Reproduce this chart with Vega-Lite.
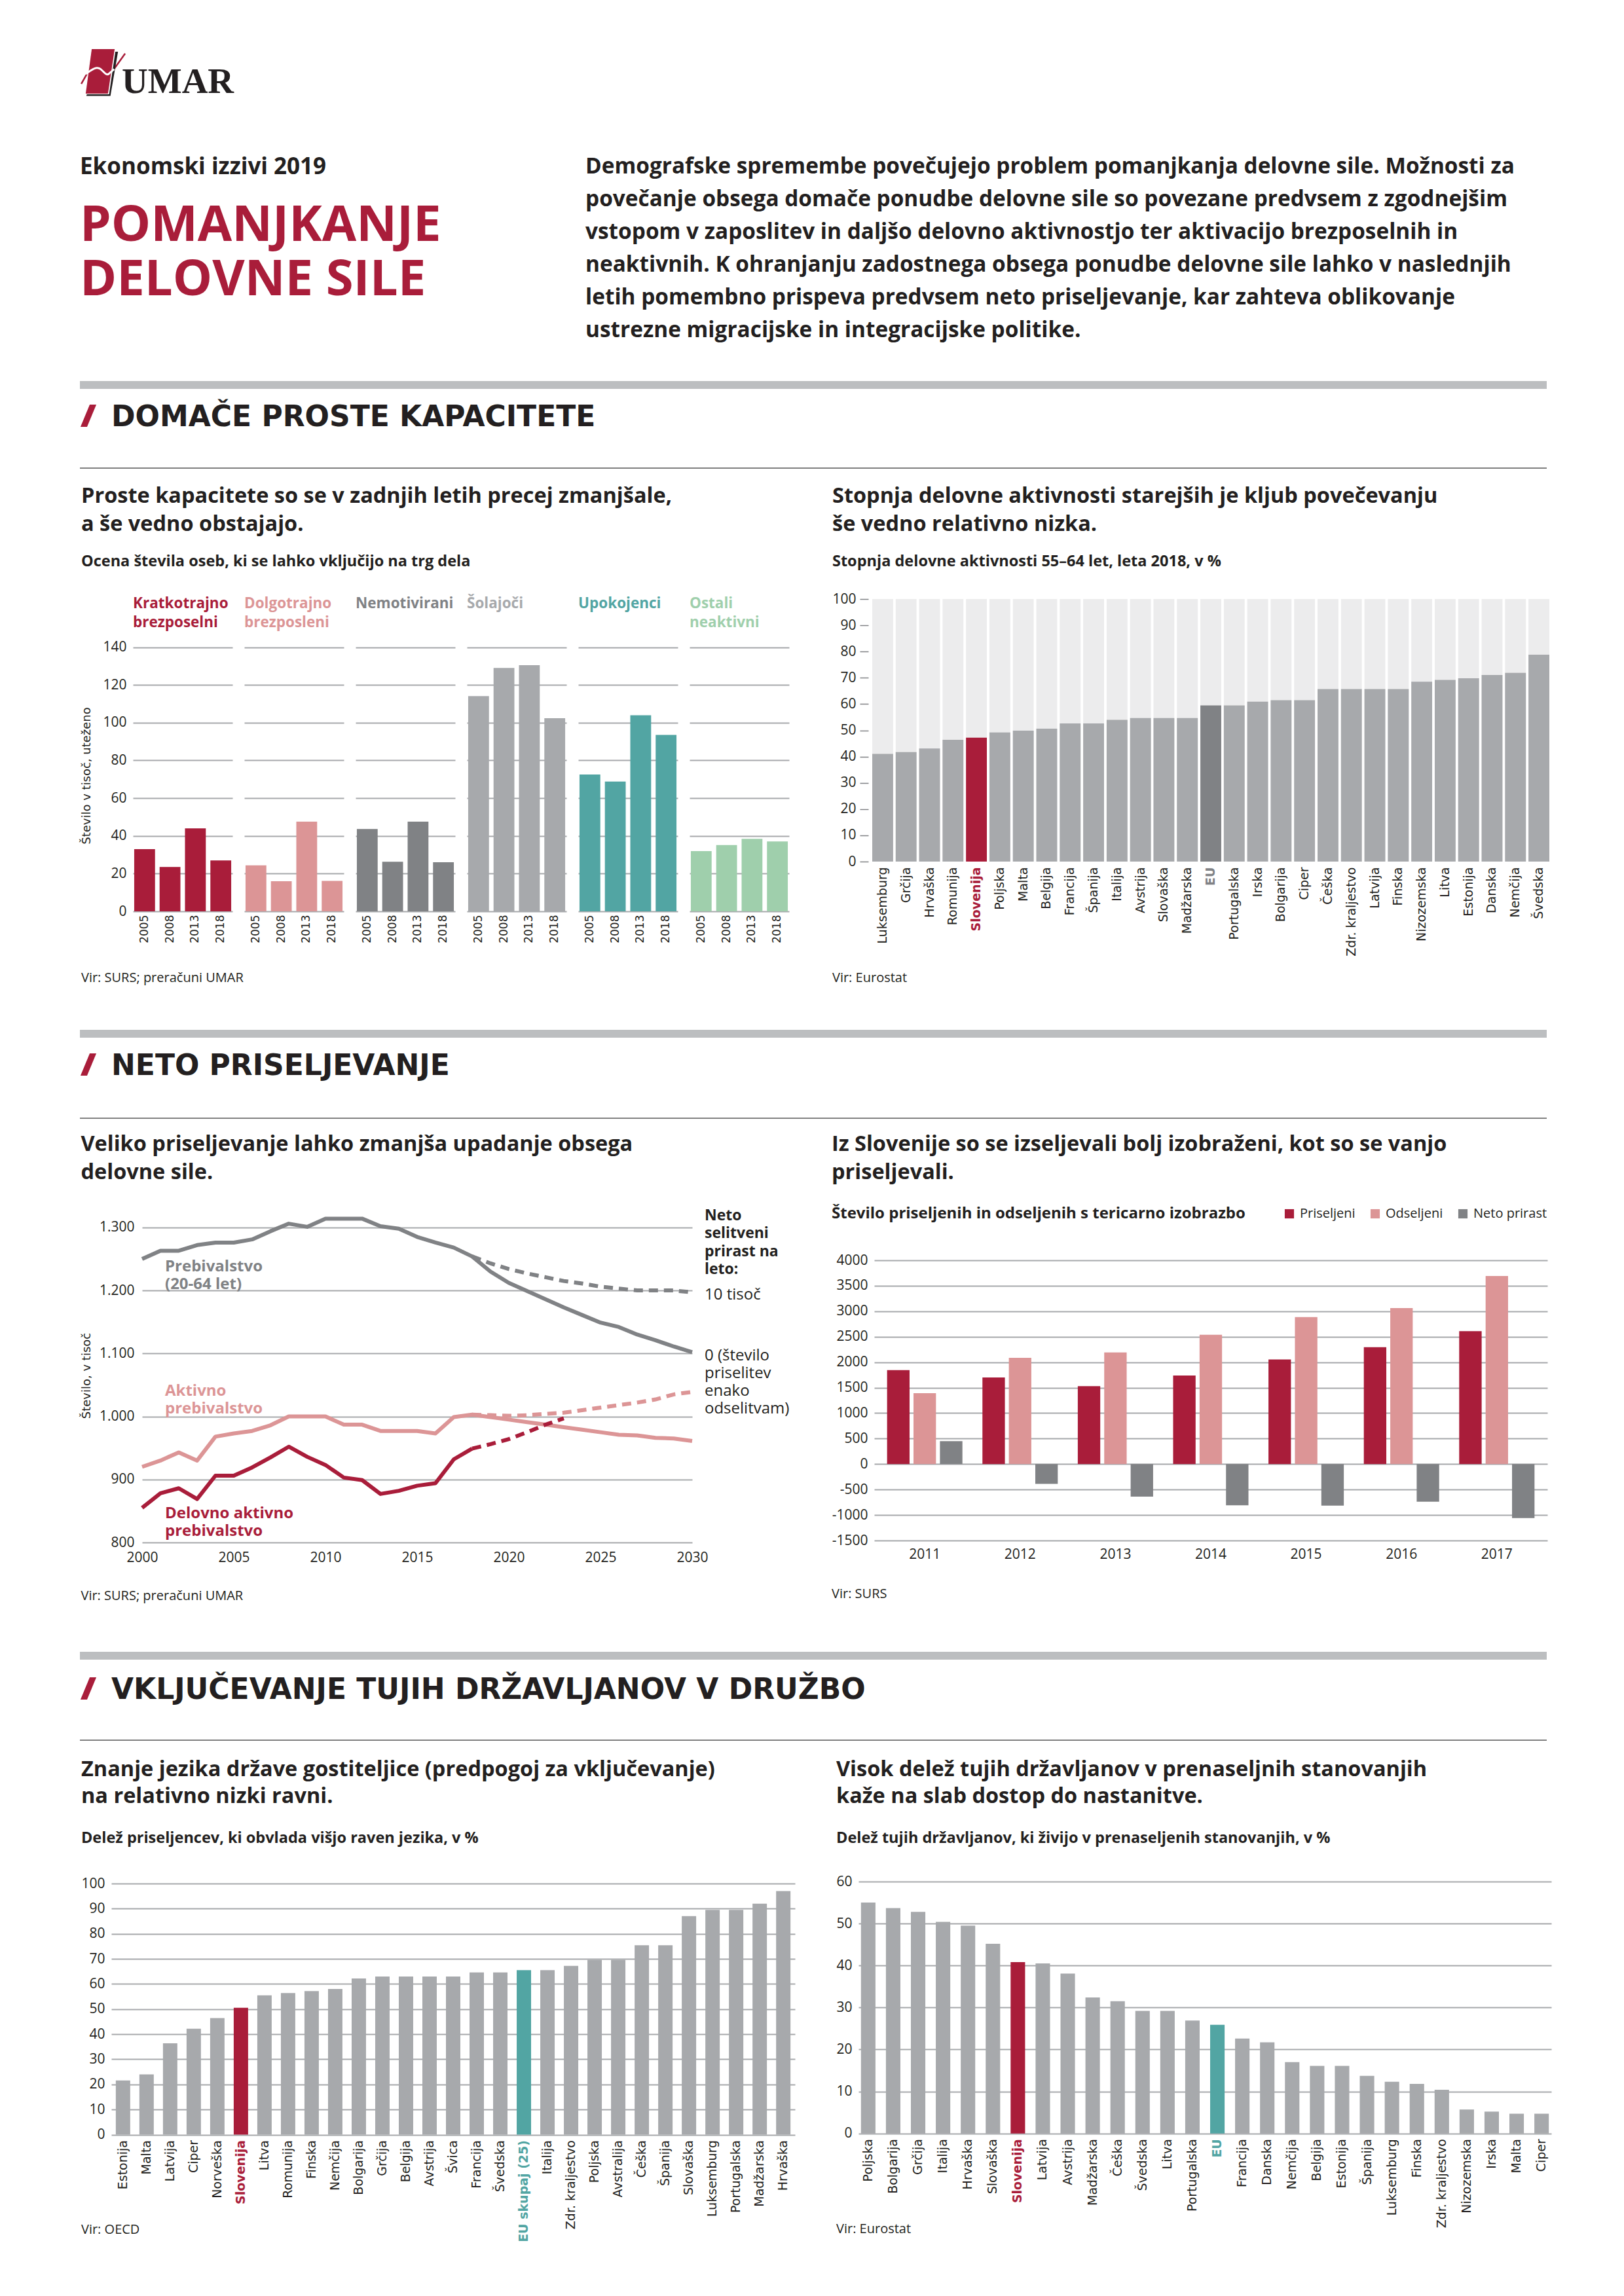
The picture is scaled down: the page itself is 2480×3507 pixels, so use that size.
{
  "$schema": "https://vega.github.io/schema/vega-lite/v6.json",
  "background": "white",
  "padding": {"left": 119, "top": 70, "right": 20, "bottom": 20},
  "spacing": 0,
  "align": "each",
  "resolve": {"scale": {"color": "independent"}, "legend": {"color": "independent"}},
  "config": {
    "view": {"stroke": null},
    "font": "Open Sans",
    "axis": {"labelFont": "Open Sans", "labelFontSize": 21, "labelColor": "#231f20", "titleFont": "DejaVu Sans", "titleFontSize": 18, "titleFontWeight": "normal", "titleColor": "#231f20", "gridColor": "#a7a9ac", "gridWidth": 2, "domain": false, "ticks": false, "grid": false},
    "title": {"font": "Open Sans", "fontWeight": "bold", "color": "#231f20", "anchor": "start", "baseline": "top", "limit": 3000}
  },
  "datasets": {
    "one": [{"k": 1}],
    "kap": [
      {"cat": "Kratkotrajno brezposelni", "year": "2005", "value": 33},
      {"cat": "Kratkotrajno brezposelni", "year": "2008", "value": 23.5},
      {"cat": "Kratkotrajno brezposelni", "year": "2013", "value": 44},
      {"cat": "Kratkotrajno brezposelni", "year": "2018", "value": 27},
      {"cat": "Dolgotrajno brezposelni", "year": "2005", "value": 24.4},
      {"cat": "Dolgotrajno brezposelni", "year": "2008", "value": 16},
      {"cat": "Dolgotrajno brezposelni", "year": "2013", "value": 47.5},
      {"cat": "Dolgotrajno brezposelni", "year": "2018", "value": 16.1},
      {"cat": "Nemotivirani", "year": "2005", "value": 43.6},
      {"cat": "Nemotivirani", "year": "2008", "value": 26.3},
      {"cat": "Nemotivirani", "year": "2013", "value": 47.5},
      {"cat": "Nemotivirani", "year": "2018", "value": 26},
      {"cat": "Šolajoči", "year": "2005", "value": 114.1},
      {"cat": "Šolajoči", "year": "2008", "value": 129},
      {"cat": "Šolajoči", "year": "2013", "value": 130.5},
      {"cat": "Šolajoči", "year": "2018", "value": 102.4},
      {"cat": "Upokojenci", "year": "2005", "value": 72.5},
      {"cat": "Upokojenci", "year": "2008", "value": 68.8},
      {"cat": "Upokojenci", "year": "2013", "value": 103.9},
      {"cat": "Upokojenci", "year": "2018", "value": 93.5},
      {"cat": "Ostali neaktivni", "year": "2005", "value": 31.9},
      {"cat": "Ostali neaktivni", "year": "2008", "value": 35.1},
      {"cat": "Ostali neaktivni", "year": "2013", "value": 38.4},
      {"cat": "Ostali neaktivni", "year": "2018", "value": 37}
    ],
    "ak": [
      {"country": "Luksemburg", "value": 41},
      {"country": "Grčija", "value": 41.7},
      {"country": "Hrvaška", "value": 43.1},
      {"country": "Romunija", "value": 46.4},
      {"country": "Slovenija", "value": 47.2},
      {"country": "Poljska", "value": 49.2},
      {"country": "Malta", "value": 49.9},
      {"country": "Belgija", "value": 50.6},
      {"country": "Francija", "value": 52.6},
      {"country": "Španija", "value": 52.6},
      {"country": "Italija", "value": 54},
      {"country": "Avstrija", "value": 54.7},
      {"country": "Slovaška", "value": 54.7},
      {"country": "Madžarska", "value": 54.7},
      {"country": "EU", "value": 59.5},
      {"country": "Portugalska", "value": 59.5},
      {"country": "Irska", "value": 60.9},
      {"country": "Bolgarija", "value": 61.5},
      {"country": "Ciper", "value": 61.5},
      {"country": "Češka", "value": 65.7},
      {"country": "Zdr. kraljestvo", "value": 65.7},
      {"country": "Latvija", "value": 65.7},
      {"country": "Finska", "value": 65.7},
      {"country": "Nizozemska", "value": 68.5},
      {"country": "Litva", "value": 69.2},
      {"country": "Estonija", "value": 69.8},
      {"country": "Danska", "value": 71.1},
      {"country": "Nemčija", "value": 71.9},
      {"country": "Švedska", "value": 78.8}
    ],
    "pop": [
      {"series": "Prebivalstvo (20-64 let)", "scen": "osnovni", "year": 2000, "value": 1250},
      {"series": "Prebivalstvo (20-64 let)", "scen": "osnovni", "year": 2001, "value": 1263},
      {"series": "Prebivalstvo (20-64 let)", "scen": "osnovni", "year": 2002, "value": 1263},
      {"series": "Prebivalstvo (20-64 let)", "scen": "osnovni", "year": 2003, "value": 1272},
      {"series": "Prebivalstvo (20-64 let)", "scen": "osnovni", "year": 2004, "value": 1276},
      {"series": "Prebivalstvo (20-64 let)", "scen": "osnovni", "year": 2005, "value": 1276},
      {"series": "Prebivalstvo (20-64 let)", "scen": "osnovni", "year": 2006, "value": 1281},
      {"series": "Prebivalstvo (20-64 let)", "scen": "osnovni", "year": 2007, "value": 1294},
      {"series": "Prebivalstvo (20-64 let)", "scen": "osnovni", "year": 2008, "value": 1306},
      {"series": "Prebivalstvo (20-64 let)", "scen": "osnovni", "year": 2009, "value": 1301},
      {"series": "Prebivalstvo (20-64 let)", "scen": "osnovni", "year": 2010, "value": 1314},
      {"series": "Prebivalstvo (20-64 let)", "scen": "osnovni", "year": 2011, "value": 1314},
      {"series": "Prebivalstvo (20-64 let)", "scen": "osnovni", "year": 2012, "value": 1314},
      {"series": "Prebivalstvo (20-64 let)", "scen": "osnovni", "year": 2013, "value": 1302},
      {"series": "Prebivalstvo (20-64 let)", "scen": "osnovni", "year": 2014, "value": 1298},
      {"series": "Prebivalstvo (20-64 let)", "scen": "osnovni", "year": 2015, "value": 1285},
      {"series": "Prebivalstvo (20-64 let)", "scen": "osnovni", "year": 2016, "value": 1276},
      {"series": "Prebivalstvo (20-64 let)", "scen": "osnovni", "year": 2017, "value": 1268},
      {"series": "Prebivalstvo (20-64 let)", "scen": "osnovni", "year": 2018, "value": 1254},
      {"series": "Prebivalstvo (20-64 let)", "scen": "osnovni", "year": 2019, "value": 1230},
      {"series": "Prebivalstvo (20-64 let)", "scen": "osnovni", "year": 2020, "value": 1212},
      {"series": "Prebivalstvo (20-64 let)", "scen": "osnovni", "year": 2021, "value": 1199},
      {"series": "Prebivalstvo (20-64 let)", "scen": "osnovni", "year": 2022, "value": 1186},
      {"series": "Prebivalstvo (20-64 let)", "scen": "osnovni", "year": 2023, "value": 1173},
      {"series": "Prebivalstvo (20-64 let)", "scen": "osnovni", "year": 2024, "value": 1161},
      {"series": "Prebivalstvo (20-64 let)", "scen": "osnovni", "year": 2025, "value": 1149},
      {"series": "Prebivalstvo (20-64 let)", "scen": "osnovni", "year": 2026, "value": 1142},
      {"series": "Prebivalstvo (20-64 let)", "scen": "osnovni", "year": 2027, "value": 1130},
      {"series": "Prebivalstvo (20-64 let)", "scen": "osnovni", "year": 2028, "value": 1121},
      {"series": "Prebivalstvo (20-64 let)", "scen": "osnovni", "year": 2029, "value": 1111},
      {"series": "Prebivalstvo (20-64 let)", "scen": "osnovni", "year": 2030, "value": 1102},
      {"series": "Prebivalstvo (20-64 let)", "scen": "10 tisoč", "year": 2018, "value": 1254},
      {"series": "Prebivalstvo (20-64 let)", "scen": "10 tisoč", "year": 2019, "value": 1243},
      {"series": "Prebivalstvo (20-64 let)", "scen": "10 tisoč", "year": 2020, "value": 1234},
      {"series": "Prebivalstvo (20-64 let)", "scen": "10 tisoč", "year": 2021, "value": 1227},
      {"series": "Prebivalstvo (20-64 let)", "scen": "10 tisoč", "year": 2022, "value": 1221},
      {"series": "Prebivalstvo (20-64 let)", "scen": "10 tisoč", "year": 2023, "value": 1215},
      {"series": "Prebivalstvo (20-64 let)", "scen": "10 tisoč", "year": 2024, "value": 1211},
      {"series": "Prebivalstvo (20-64 let)", "scen": "10 tisoč", "year": 2025, "value": 1206},
      {"series": "Prebivalstvo (20-64 let)", "scen": "10 tisoč", "year": 2026, "value": 1203},
      {"series": "Prebivalstvo (20-64 let)", "scen": "10 tisoč", "year": 2027, "value": 1200},
      {"series": "Prebivalstvo (20-64 let)", "scen": "10 tisoč", "year": 2028, "value": 1200},
      {"series": "Prebivalstvo (20-64 let)", "scen": "10 tisoč", "year": 2029, "value": 1200},
      {"series": "Prebivalstvo (20-64 let)", "scen": "10 tisoč", "year": 2030, "value": 1197},
      {"series": "Aktivno prebivalstvo", "scen": "osnovni", "year": 2000, "value": 920},
      {"series": "Aktivno prebivalstvo", "scen": "osnovni", "year": 2001, "value": 930},
      {"series": "Aktivno prebivalstvo", "scen": "osnovni", "year": 2002, "value": 943},
      {"series": "Aktivno prebivalstvo", "scen": "osnovni", "year": 2003, "value": 930},
      {"series": "Aktivno prebivalstvo", "scen": "osnovni", "year": 2004, "value": 968},
      {"series": "Aktivno prebivalstvo", "scen": "osnovni", "year": 2005, "value": 973},
      {"series": "Aktivno prebivalstvo", "scen": "osnovni", "year": 2006, "value": 977},
      {"series": "Aktivno prebivalstvo", "scen": "osnovni", "year": 2007, "value": 986},
      {"series": "Aktivno prebivalstvo", "scen": "osnovni", "year": 2008, "value": 1000},
      {"series": "Aktivno prebivalstvo", "scen": "osnovni", "year": 2009, "value": 1000},
      {"series": "Aktivno prebivalstvo", "scen": "osnovni", "year": 2010, "value": 1000},
      {"series": "Aktivno prebivalstvo", "scen": "osnovni", "year": 2011, "value": 987},
      {"series": "Aktivno prebivalstvo", "scen": "osnovni", "year": 2012, "value": 987},
      {"series": "Aktivno prebivalstvo", "scen": "osnovni", "year": 2013, "value": 977},
      {"series": "Aktivno prebivalstvo", "scen": "osnovni", "year": 2014, "value": 977},
      {"series": "Aktivno prebivalstvo", "scen": "osnovni", "year": 2015, "value": 977},
      {"series": "Aktivno prebivalstvo", "scen": "osnovni", "year": 2016, "value": 973},
      {"series": "Aktivno prebivalstvo", "scen": "osnovni", "year": 2017, "value": 999},
      {"series": "Aktivno prebivalstvo", "scen": "osnovni", "year": 2018, "value": 1003},
      {"series": "Aktivno prebivalstvo", "scen": "osnovni", "year": 2019, "value": 999},
      {"series": "Aktivno prebivalstvo", "scen": "osnovni", "year": 2020, "value": 995},
      {"series": "Aktivno prebivalstvo", "scen": "osnovni", "year": 2021, "value": 991},
      {"series": "Aktivno prebivalstvo", "scen": "osnovni", "year": 2022, "value": 987},
      {"series": "Aktivno prebivalstvo", "scen": "osnovni", "year": 2023, "value": 983},
      {"series": "Aktivno prebivalstvo", "scen": "osnovni", "year": 2024, "value": 979},
      {"series": "Aktivno prebivalstvo", "scen": "osnovni", "year": 2025, "value": 975},
      {"series": "Aktivno prebivalstvo", "scen": "osnovni", "year": 2026, "value": 971},
      {"series": "Aktivno prebivalstvo", "scen": "osnovni", "year": 2027, "value": 970},
      {"series": "Aktivno prebivalstvo", "scen": "osnovni", "year": 2028, "value": 966},
      {"series": "Aktivno prebivalstvo", "scen": "osnovni", "year": 2029, "value": 965},
      {"series": "Aktivno prebivalstvo", "scen": "osnovni", "year": 2030, "value": 961},
      {"series": "Aktivno prebivalstvo", "scen": "10 tisoč", "year": 2018, "value": 1003},
      {"series": "Aktivno prebivalstvo", "scen": "10 tisoč", "year": 2019, "value": 1002},
      {"series": "Aktivno prebivalstvo", "scen": "10 tisoč", "year": 2020, "value": 1001},
      {"series": "Aktivno prebivalstvo", "scen": "10 tisoč", "year": 2021, "value": 1002},
      {"series": "Aktivno prebivalstvo", "scen": "10 tisoč", "year": 2022, "value": 1004},
      {"series": "Aktivno prebivalstvo", "scen": "10 tisoč", "year": 2023, "value": 1006},
      {"series": "Aktivno prebivalstvo", "scen": "10 tisoč", "year": 2024, "value": 1010},
      {"series": "Aktivno prebivalstvo", "scen": "10 tisoč", "year": 2025, "value": 1014},
      {"series": "Aktivno prebivalstvo", "scen": "10 tisoč", "year": 2026, "value": 1018},
      {"series": "Aktivno prebivalstvo", "scen": "10 tisoč", "year": 2027, "value": 1022},
      {"series": "Aktivno prebivalstvo", "scen": "10 tisoč", "year": 2028, "value": 1027},
      {"series": "Aktivno prebivalstvo", "scen": "10 tisoč", "year": 2029, "value": 1035},
      {"series": "Aktivno prebivalstvo", "scen": "10 tisoč", "year": 2030, "value": 1039},
      {"series": "Delovno aktivno prebivalstvo", "scen": "osnovni", "year": 2000, "value": 855},
      {"series": "Delovno aktivno prebivalstvo", "scen": "osnovni", "year": 2001, "value": 878},
      {"series": "Delovno aktivno prebivalstvo", "scen": "osnovni", "year": 2002, "value": 886},
      {"series": "Delovno aktivno prebivalstvo", "scen": "osnovni", "year": 2003, "value": 869},
      {"series": "Delovno aktivno prebivalstvo", "scen": "osnovni", "year": 2004, "value": 906},
      {"series": "Delovno aktivno prebivalstvo", "scen": "osnovni", "year": 2005, "value": 906},
      {"series": "Delovno aktivno prebivalstvo", "scen": "osnovni", "year": 2006, "value": 919},
      {"series": "Delovno aktivno prebivalstvo", "scen": "osnovni", "year": 2007, "value": 935},
      {"series": "Delovno aktivno prebivalstvo", "scen": "osnovni", "year": 2008, "value": 952},
      {"series": "Delovno aktivno prebivalstvo", "scen": "osnovni", "year": 2009, "value": 936},
      {"series": "Delovno aktivno prebivalstvo", "scen": "osnovni", "year": 2010, "value": 923},
      {"series": "Delovno aktivno prebivalstvo", "scen": "osnovni", "year": 2011, "value": 903},
      {"series": "Delovno aktivno prebivalstvo", "scen": "osnovni", "year": 2012, "value": 899},
      {"series": "Delovno aktivno prebivalstvo", "scen": "osnovni", "year": 2013, "value": 877},
      {"series": "Delovno aktivno prebivalstvo", "scen": "osnovni", "year": 2014, "value": 882},
      {"series": "Delovno aktivno prebivalstvo", "scen": "osnovni", "year": 2015, "value": 890},
      {"series": "Delovno aktivno prebivalstvo", "scen": "osnovni", "year": 2016, "value": 894},
      {"series": "Delovno aktivno prebivalstvo", "scen": "osnovni", "year": 2017, "value": 932},
      {"series": "Delovno aktivno prebivalstvo", "scen": "osnovni", "year": 2018, "value": 949},
      {"series": "Delovno aktivno prebivalstvo", "scen": "10 tisoč", "year": 2018, "value": 949},
      {"series": "Delovno aktivno prebivalstvo", "scen": "10 tisoč", "year": 2019, "value": 956},
      {"series": "Delovno aktivno prebivalstvo", "scen": "10 tisoč", "year": 2020, "value": 964},
      {"series": "Delovno aktivno prebivalstvo", "scen": "10 tisoč", "year": 2021, "value": 975},
      {"series": "Delovno aktivno prebivalstvo", "scen": "10 tisoč", "year": 2022, "value": 987},
      {"series": "Delovno aktivno prebivalstvo", "scen": "10 tisoč", "year": 2023, "value": 997}
    ],
    "mig": [
      {"year": "2011", "type": "Priseljeni", "value": 1845},
      {"year": "2011", "type": "Odseljeni", "value": 1392},
      {"year": "2011", "type": "Neto prirast", "value": 450},
      {"year": "2012", "type": "Priseljeni", "value": 1701},
      {"year": "2012", "type": "Odseljeni", "value": 2085},
      {"year": "2012", "type": "Neto prirast", "value": -390},
      {"year": "2013", "type": "Priseljeni", "value": 1531},
      {"year": "2013", "type": "Odseljeni", "value": 2192},
      {"year": "2013", "type": "Neto prirast", "value": -640},
      {"year": "2014", "type": "Priseljeni", "value": 1739},
      {"year": "2014", "type": "Odseljeni", "value": 2539},
      {"year": "2014", "type": "Neto prirast", "value": -810},
      {"year": "2015", "type": "Priseljeni", "value": 2053},
      {"year": "2015", "type": "Odseljeni", "value": 2885},
      {"year": "2015", "type": "Neto prirast", "value": -815},
      {"year": "2016", "type": "Priseljeni", "value": 2293},
      {"year": "2016", "type": "Odseljeni", "value": 3061},
      {"year": "2016", "type": "Neto prirast", "value": -740},
      {"year": "2017", "type": "Priseljeni", "value": 2608},
      {"year": "2017", "type": "Odseljeni", "value": 3691},
      {"year": "2017", "type": "Neto prirast", "value": -1060}
    ],
    "jez": [
      {"country": "Estonija", "value": 21.6},
      {"country": "Malta", "value": 24},
      {"country": "Latvija", "value": 36.4},
      {"country": "Ciper", "value": 42.2},
      {"country": "Norveška", "value": 46.4},
      {"country": "Slovenija", "value": 50.5},
      {"country": "Litva", "value": 55.5},
      {"country": "Romunija", "value": 56.4},
      {"country": "Finska", "value": 57.2},
      {"country": "Nemčija", "value": 58},
      {"country": "Bolgarija", "value": 62.2},
      {"country": "Grčija", "value": 63},
      {"country": "Belgija", "value": 63},
      {"country": "Avstrija", "value": 63},
      {"country": "Švica", "value": 63},
      {"country": "Francija", "value": 64.6},
      {"country": "Švedska", "value": 64.6},
      {"country": "EU skupaj (25)", "value": 65.5},
      {"country": "Italija", "value": 65.5},
      {"country": "Zdr. kraljestvo", "value": 67.2},
      {"country": "Poljska", "value": 69.6},
      {"country": "Avstralija", "value": 69.6},
      {"country": "Češka", "value": 75.4},
      {"country": "Španija", "value": 75.4},
      {"country": "Slovaška", "value": 87},
      {"country": "Luksemburg", "value": 89.5},
      {"country": "Portugalska", "value": 89.5},
      {"country": "Madžarska", "value": 92},
      {"country": "Hrvaška", "value": 97}
    ],
    "sta": [
      {"country": "Poljska", "value": 55},
      {"country": "Bolgarija", "value": 53.7},
      {"country": "Grčija", "value": 52.8},
      {"country": "Italija", "value": 50.4},
      {"country": "Hrvaška", "value": 49.5},
      {"country": "Slovaška", "value": 45.2},
      {"country": "Slovenija", "value": 40.8},
      {"country": "Latvija", "value": 40.5},
      {"country": "Avstrija", "value": 38.1},
      {"country": "Madžarska", "value": 32.4},
      {"country": "Češka", "value": 31.5},
      {"country": "Švedska", "value": 29.2},
      {"country": "Litva", "value": 29.2},
      {"country": "Portugalska", "value": 26.9},
      {"country": "EU", "value": 25.9},
      {"country": "Francija", "value": 22.6},
      {"country": "Danska", "value": 21.7},
      {"country": "Nemčija", "value": 17},
      {"country": "Belgija", "value": 16.1},
      {"country": "Estonija", "value": 16.1},
      {"country": "Španija", "value": 13.7},
      {"country": "Luksemburg", "value": 12.3},
      {"country": "Finska", "value": 11.8},
      {"country": "Zdr. kraljestvo", "value": 10.4},
      {"country": "Nizozemska", "value": 5.7},
      {"country": "Irska", "value": 5.2},
      {"country": "Malta", "value": 4.7},
      {"country": "Ciper", "value": 4.7}
    ]
  },
  "vconcat": [
    {
      "width": 240, "height": 78, "data": {"name": "one"},
      "layer": [
        {"mark": {"type": "point", "shape": "M -0.85 0.56 L -0.6 0.12 M 0.62 -0.1 L 1.12 -0.8", "size": 4624, "filled": false, "color": "#a91d3a", "strokeWidth": 2.5, "opacity": 1, "xOffset": -89}, "encoding": {}},
        {"mark": {"type": "point", "shape": "M 0.68 -0.88 L 0.8 -0.88 L 0.46 1.1 L -0.62 1.1 L -0.6 1.03 L 0.4 1.03 Z", "size": 4624, "filled": true, "color": "#231f20", "opacity": 1, "strokeWidth": 0, "xOffset": -89}, "encoding": {}},
        {"mark": {"type": "point", "shape": "M -0.38 -1 L 0.65 -1 L 0.35 1 L -0.65 1 Z", "size": 4624, "filled": true, "color": "#a91d3a", "opacity": 1, "strokeWidth": 0, "xOffset": -89}, "encoding": {}},
        {"mark": {"type": "point", "shape": "M -0.65 0.12 C -0.4 -0.05 -0.2 -0.25 0.02 -0.1 C 0.18 0.02 0.28 0.25 0.42 0.08 L 0.63 -0.1", "size": 4624, "filled": false, "color": "white", "strokeWidth": 3, "opacity": 1, "xOffset": -89}, "encoding": {}},
        {"mark": {"type": "text", "align": "left", "baseline": "alphabetic", "dx": -56, "dy": 33, "font": "Liberation Serif", "fontWeight": "bold", "fontSize": 55, "color": "#231f20"}, "encoding": {"text": {"value": "UMAR"}}}
      ]
    },
    {"width": 1, "height": 84, "data": {"name": "one"}, "mark": {"type": "text"}, "encoding": {"text": {"value": ""}}},
    {
      "hconcat": [
        {
          "width": 772, "height": 1, "data": {"name": "one"}, "mark": {"type": "text"}, "encoding": {"text": {"value": ""}},
          "title": {"text": "Ekonomski izzivi 2019", "fontSize": 35, "subtitle": ["POMANJKANJE", "DELOVNE SILE"], "subtitleFont": "Open Sans", "subtitleFontWeight": "bold", "subtitleFontSize": 76, "subtitleColor": "#a91d3a", "subtitleLineHeight": 83, "subtitlePadding": 35, "frame": "group", "offset": 57}
        },
        {
          "width": 1468, "height": 1, "data": {"name": "one"}, "mark": {"type": "text"}, "encoding": {"text": {"value": ""}},
          "title": {"text": ["Demografske spremembe povečujejo problem pomanjkanja delovne sile. Možnosti za", "povečanje obsega domače ponudbe delovne sile so povezane predvsem z zgodnejšim", "vstopom v zaposlitev in daljšo delovno aktivnostjo ter aktivacijo brezposelnih in", "neaktivnih. K ohranjanju zadostnega obsega ponudbe delovne sile lahko v naslednjih", "letih pomembno prispeva predvsem neto priseljevanje, kar zahteva oblikovanje", "ustrezne migracijske in integracijske politike."], "fontSize": 33.4, "lineHeight": 50, "frame": "group", "offset": 0}
        }
      ],
      "spacing": 0, "align": "each"
    },
    {"width": 1, "height": 48, "data": {"name": "one"}, "mark": {"type": "text"}, "encoding": {"text": {"value": ""}}},
    {"width": 2240, "height": 12, "view": {"fill": "#bcbec0", "stroke": null}, "data": {"name": "one"}, "mark": {"type": "text"}, "encoding": {"text": {"value": ""}}},
    {"width": 1, "height": 22, "data": {"name": "one"}, "mark": {"type": "text"}, "encoding": {"text": {"value": ""}}},
    {
      "width": 26, "height": 40, "data": {"name": "one"},
      "layer": [
        {"mark": {"type": "point", "shape": "M 0.12 -1 L 0.71 -1 L -0.12 1 L -0.71 1 Z", "size": 1156, "filled": true, "color": "#a91d3a", "opacity": 1, "strokeWidth": 0, "yOffset": -3}, "encoding": {}},
        {"mark": {"type": "text", "align": "left", "baseline": "middle", "dx": 35, "font": "DejaVu Sans", "fontWeight": "bold", "fontSize": 44, "color": "#231f20"}, "encoding": {"text": {"value": "DOMAČE PROSTE KAPACITETE"}}}
      ]
    },
    {"width": 1, "height": 49, "data": {"name": "one"}, "mark": {"type": "text"}, "encoding": {"text": {"value": ""}}},
    {"width": 2240, "height": 2, "view": {"fill": "#808080", "stroke": null}, "data": {"name": "one"}, "mark": {"type": "text"}, "encoding": {"text": {"value": ""}}},
    {"width": 1, "height": 22, "data": {"name": "one"}, "mark": {"type": "text"}, "encoding": {"text": {"value": ""}}},
    {
      "hconcat": [
        {"width": 1, "height": 1, "data": {"name": "one"}, "mark": {"type": "text"}, "encoding": {"text": {"value": ""}}},
        {
          "hconcat": [
            {
              "title": {"text": ["Proste kapacitete so se v zadnjih letih precej zmanjšale,", "a še vedno obstajajo."], "fontSize": 32.5, "lineHeight": 43, "subtitle": "Ocena števila oseb, ki se lahko vključijo na trg dela", "subtitleFont": "Open Sans", "subtitleFontWeight": "bold", "subtitleFontSize": 23.5, "subtitleColor": "#231f20", "subtitlePadding": 28, "offset": 0, "frame": "bounds"},
              "spacing": 0,
              "vconcat": [
                {"width": 1, "height": 41, "data": {"name": "one"}, "mark": {"type": "text"}, "encoding": {"text": {"value": ""}}},
                {
                  "title": {"text": "Vir: SURS; preračuni UMAR", "orient": "bottom", "fontSize": 20, "fontWeight": "normal", "offset": 44, "frame": "bounds"},
                  "spacing": 18,
                  "hconcat": [
                    {
                      "width": 152, "height": 415, "data": {"name": "kap"},
                      "title": {"text": ["Kratkotrajno", "brezposelni"], "color": "#a91d3a", "fontSize": 22.5, "lineHeight": 29, "offset": 15, "frame": "group"},
                      "transform": [{"filter": "datum.cat === 'Kratkotrajno brezposelni'"}],
                      "mark": {"type": "bar", "color": "#a91d3a"},
                      "encoding": {
                        "x": {"field": "year", "type": "ordinal", "scale": {"paddingInner": 0.18, "paddingOuter": 0.05}, "axis": {"title": null, "labelAngle": -90, "labelFont": "DejaVu Sans", "labelFontSize": 17, "labelPadding": 5, "labelOverlap": false}},
                        "y": {"field": "value", "type": "quantitative", "scale": {"domain": [0, 144], "nice": false}, "axis": {"values": [0, 20, 40, 60, 80, 100, 120, 140], "grid": true, "title": "Število v tisoč, uteženo", "titlePadding": 15, "labelPadding": 10}}
                      }
                    },
                    {
                      "width": 152, "height": 415, "data": {"name": "kap"},
                      "title": {"text": ["Dolgotrajno", "brezposleni"], "color": "#dc9596", "fontSize": 22.5, "lineHeight": 29, "offset": 15, "frame": "group"},
                      "transform": [{"filter": "datum.cat === 'Dolgotrajno brezposelni'"}],
                      "mark": {"type": "bar", "color": "#dc9596"},
                      "encoding": {
                        "x": {"field": "year", "type": "ordinal", "scale": {"paddingInner": 0.18, "paddingOuter": 0.05}, "axis": {"title": null, "labelAngle": -90, "labelFont": "DejaVu Sans", "labelFontSize": 17, "labelPadding": 5, "labelOverlap": false}},
                        "y": {"field": "value", "type": "quantitative", "scale": {"domain": [0, 144], "nice": false}, "axis": {"values": [0, 20, 40, 60, 80, 100, 120, 140], "grid": true, "labels": false, "title": null}}
                      }
                    },
                    {
                      "width": 152, "height": 415, "data": {"name": "kap"},
                      "title": {"text": ["Nemotivirani", " "], "color": "#808285", "fontSize": 22.5, "lineHeight": 29, "offset": 15, "frame": "group"},
                      "transform": [{"filter": "datum.cat === 'Nemotivirani'"}],
                      "mark": {"type": "bar", "color": "#808285"},
                      "encoding": {
                        "x": {"field": "year", "type": "ordinal", "scale": {"paddingInner": 0.18, "paddingOuter": 0.05}, "axis": {"title": null, "labelAngle": -90, "labelFont": "DejaVu Sans", "labelFontSize": 17, "labelPadding": 5, "labelOverlap": false}},
                        "y": {"field": "value", "type": "quantitative", "scale": {"domain": [0, 144], "nice": false}, "axis": {"values": [0, 20, 40, 60, 80, 100, 120, 140], "grid": true, "labels": false, "title": null}}
                      }
                    },
                    {
                      "width": 152, "height": 415, "data": {"name": "kap"},
                      "title": {"text": ["Šolajoči", " "], "color": "#a7a9ac", "fontSize": 22.5, "lineHeight": 29, "offset": 15, "frame": "group"},
                      "transform": [{"filter": "datum.cat === 'Šolajoči'"}],
                      "mark": {"type": "bar", "color": "#a7a9ac"},
                      "encoding": {
                        "x": {"field": "year", "type": "ordinal", "scale": {"paddingInner": 0.18, "paddingOuter": 0.05}, "axis": {"title": null, "labelAngle": -90, "labelFont": "DejaVu Sans", "labelFontSize": 17, "labelPadding": 5, "labelOverlap": false}},
                        "y": {"field": "value", "type": "quantitative", "scale": {"domain": [0, 144], "nice": false}, "axis": {"values": [0, 20, 40, 60, 80, 100, 120, 140], "grid": true, "labels": false, "title": null}}
                      }
                    },
                    {
                      "width": 152, "height": 415, "data": {"name": "kap"},
                      "title": {"text": ["Upokojenci", " "], "color": "#52a5a3", "fontSize": 22.5, "lineHeight": 29, "offset": 15, "frame": "group"},
                      "transform": [{"filter": "datum.cat === 'Upokojenci'"}],
                      "mark": {"type": "bar", "color": "#52a5a3"},
                      "encoding": {
                        "x": {"field": "year", "type": "ordinal", "scale": {"paddingInner": 0.18, "paddingOuter": 0.05}, "axis": {"title": null, "labelAngle": -90, "labelFont": "DejaVu Sans", "labelFontSize": 17, "labelPadding": 5, "labelOverlap": false}},
                        "y": {"field": "value", "type": "quantitative", "scale": {"domain": [0, 144], "nice": false}, "axis": {"values": [0, 20, 40, 60, 80, 100, 120, 140], "grid": true, "labels": false, "title": null}}
                      }
                    },
                    {
                      "width": 152, "height": 415, "data": {"name": "kap"},
                      "title": {"text": ["Ostali", "neaktivni"], "color": "#9fcfac", "fontSize": 22.5, "lineHeight": 29, "offset": 15, "frame": "group"},
                      "transform": [{"filter": "datum.cat === 'Ostali neaktivni'"}],
                      "mark": {"type": "bar", "color": "#9fcfac"},
                      "encoding": {
                        "x": {"field": "year", "type": "ordinal", "scale": {"paddingInner": 0.18, "paddingOuter": 0.05}, "axis": {"title": null, "labelAngle": -90, "labelFont": "DejaVu Sans", "labelFontSize": 17, "labelPadding": 5, "labelOverlap": false}},
                        "y": {"field": "value", "type": "quantitative", "scale": {"domain": [0, 144], "nice": false}, "axis": {"values": [0, 20, 40, 60, 80, 100, 120, 140], "grid": true, "labels": false, "title": null}}
                      }
                    }
                  ]
                }
              ]
            },
            {
              "title": {"text": ["Stopnja delovne aktivnosti starejših je kljub povečevanju", "še vedno relativno nizka."], "fontSize": 32.5, "lineHeight": 43, "subtitle": "Stopnja delovne aktivnosti 55–64 let, leta 2018, v %", "subtitleFont": "Open Sans", "subtitleFontWeight": "bold", "subtitleFontSize": 23.5, "subtitleColor": "#231f20", "subtitlePadding": 28, "offset": 0, "frame": "bounds"},
              "spacing": 0,
              "vconcat": [
                {"width": 1, "height": 35, "data": {"name": "one"}, "mark": {"type": "text"}, "encoding": {"text": {"value": ""}}},
                {
                  "width": 1034, "height": 401, "data": {"name": "ak"},
                  "title": {"text": "Vir: Eurostat", "orient": "bottom", "fontSize": 20, "fontWeight": "normal", "offset": 24, "frame": "bounds"},
                  "encoding": {
                    "x": {"field": "country", "type": "nominal", "sort": null, "scale": {"paddingInner": 0.11, "paddingOuter": 0}, "axis": {"title": null, "labelAngle": -90, "labelFont": "DejaVu Sans", "labelFontSize": 19, "labelPadding": 8, "labelOverlap": false, "labelLimit": 400, "labelColor": {"condition": [{"test": "datum.value === 'Slovenija'", "value": "#a91d3a"}, {"test": "datum.value === 'EU'", "value": "#808285"}], "value": "#231f20"}, "labelFontWeight": {"condition": {"test": "datum.value === 'Slovenija' || datum.value === 'EU'", "value": "bold"}, "value": "normal"}}}
                  },
                  "layer": [
                    {"mark": {"type": "bar", "color": "#ececed"}, "encoding": {"y": {"datum": 100, "type": "quantitative", "scale": {"domain": [0, 100], "nice": false}, "axis": {"values": [0, 10, 20, 30, 40, 50, 60, 70, 80, 90, 100], "title": null, "ticks": true, "tickSize": 13, "tickColor": "#808285", "tickWidth": 1.5, "offset": 6, "labelPadding": 6}}}},
                    {"mark": {"type": "bar"}, "encoding": {"y": {"field": "value", "type": "quantitative"}, "color": {"condition": [{"test": "datum.country === 'Slovenija'", "value": "#a91d3a"}, {"test": "datum.country === 'EU'", "value": "#808285"}], "value": "#a7a9ac"}}}
                  ]
                }
              ]
            }
          ],
          "spacing": 65, "align": "each"
        }
      ],
      "spacing": 0, "align": "each"
    },
    {"width": 1, "height": 68, "data": {"name": "one"}, "mark": {"type": "text"}, "encoding": {"text": {"value": ""}}},
    {"width": 2240, "height": 12, "view": {"fill": "#bcbec0", "stroke": null}, "data": {"name": "one"}, "mark": {"type": "text"}, "encoding": {"text": {"value": ""}}},
    {"width": 1, "height": 22, "data": {"name": "one"}, "mark": {"type": "text"}, "encoding": {"text": {"value": ""}}},
    {
      "width": 26, "height": 40, "data": {"name": "one"},
      "layer": [
        {"mark": {"type": "point", "shape": "M 0.12 -1 L 0.71 -1 L -0.12 1 L -0.71 1 Z", "size": 1156, "filled": true, "color": "#a91d3a", "opacity": 1, "strokeWidth": 0, "yOffset": -3}, "encoding": {}},
        {"mark": {"type": "text", "align": "left", "baseline": "middle", "dx": 35, "font": "DejaVu Sans", "fontWeight": "bold", "fontSize": 44, "color": "#231f20"}, "encoding": {"text": {"value": "NETO PRISELJEVANJE"}}}
      ]
    },
    {"width": 1, "height": 51, "data": {"name": "one"}, "mark": {"type": "text"}, "encoding": {"text": {"value": ""}}},
    {"width": 2240, "height": 2, "view": {"fill": "#808080", "stroke": null}, "data": {"name": "one"}, "mark": {"type": "text"}, "encoding": {"text": {"value": ""}}},
    {"width": 1, "height": 18, "data": {"name": "one"}, "mark": {"type": "text"}, "encoding": {"text": {"value": ""}}},
    {
      "resolve": {"scale": {"color": "independent"}, "legend": {"color": "independent"}},
      "hconcat": [
        {"width": 1, "height": 1, "data": {"name": "one"}, "mark": {"type": "text"}, "encoding": {"text": {"value": ""}}},
        {
          "resolve": {"scale": {"color": "independent"}, "legend": {"color": "independent"}},
          "hconcat": [
            {
              "title": {"text": ["Veliko priseljevanje lahko zmanjša upadanje obsega", "delovne sile."], "fontSize": 32.5, "lineHeight": 43, "offset": 0, "frame": "bounds"},
              "spacing": 0,
              "vconcat": [
                {"width": 1, "height": 38, "data": {"name": "one"}, "mark": {"type": "text"}, "encoding": {"text": {"value": ""}}},
                {
                  "width": 840, "height": 510, "data": {"name": "pop"},
                  "title": {"text": "Vir: SURS; preračuni UMAR", "orient": "bottom", "fontSize": 20, "fontWeight": "normal", "offset": 39, "frame": "bounds"},
                  "encoding": {
                    "x": {"field": "year", "type": "quantitative", "scale": {"domain": [2000, 2030], "nice": false, "zero": false}, "axis": {"values": [2000, 2005, 2010, 2015, 2020, 2025, 2030], "format": "d", "title": null, "grid": false, "labelPadding": 12, "labelFlush": false}},
                    "y": {"field": "value", "type": "quantitative", "scale": {"domain": [800, 1330], "nice": false, "zero": false}, "axis": {"values": [800, 900, 1000, 1100, 1200, 1300], "labelExpr": "replace(format(datum.value, ','), ',', '.')", "grid": true, "title": "Število, v tisoč", "titlePadding": 10, "labelPadding": 12}}
                  },
                  "layer": [
                    {"transform": [{"filter": "datum.scen === 'osnovni'"}], "mark": {"type": "line", "strokeWidth": 6, "strokeJoin": "round"}, "encoding": {"stroke": {"field": "series", "type": "nominal", "scale": {"domain": ["Prebivalstvo (20-64 let)", "Aktivno prebivalstvo", "Delovno aktivno prebivalstvo"], "range": ["#808285", "#dc9596", "#a91d3a"]}, "legend": null}}},
                    {"transform": [{"filter": "datum.scen === '10 tisoč'"}], "mark": {"type": "line", "strokeWidth": 6, "strokeDash": [14, 9]}, "encoding": {"stroke": {"field": "series", "type": "nominal", "scale": {"domain": ["Prebivalstvo (20-64 let)", "Aktivno prebivalstvo", "Delovno aktivno prebivalstvo"], "range": ["#808285", "#dc9596", "#a91d3a"]}, "legend": null}}},
                    {"transform": [{"filter": "datum.year === 2000 && datum.scen === 'osnovni' && datum.series === 'Prebivalstvo (20-64 let)'"}], "mark": {"type": "text", "align": "left", "baseline": "top", "dx": 35, "dy": 0, "fontSize": 24, "fontWeight": "bold", "lineHeight": 27, "color": "#808285"}, "encoding": {"text": {"value": ["Prebivalstvo", "(20-64 let)"]}}},
                    {"transform": [{"filter": "datum.year === 2000 && datum.scen === 'osnovni' && datum.series === 'Aktivno prebivalstvo'"}], "mark": {"type": "text", "align": "left", "baseline": "top", "dx": 35, "dy": -128, "fontSize": 24, "fontWeight": "bold", "lineHeight": 27, "color": "#dc9596"}, "encoding": {"text": {"value": ["Aktivno", "prebivalstvo"]}}},
                    {"transform": [{"filter": "datum.year === 2000 && datum.scen === 'osnovni' && datum.series === 'Delovno aktivno prebivalstvo'"}], "mark": {"type": "text", "align": "left", "baseline": "top", "dx": 35, "dy": -3, "fontSize": 24, "fontWeight": "bold", "lineHeight": 27, "color": "#a91d3a"}, "encoding": {"text": {"value": ["Delovno aktivno", "prebivalstvo"]}}},
                    {"transform": [{"filter": "datum.year === 2030 && datum.scen === '10 tisoč' && datum.series === 'Prebivalstvo (20-64 let)'"}], "mark": {"type": "text", "align": "left", "baseline": "top", "dx": 19, "dy": -128, "fontSize": 23, "fontWeight": "bold", "lineHeight": 27.5, "color": "#231f20"}, "encoding": {"text": {"value": ["Neto", "selitveni", "prirast na", "leto:"]}}},
                    {"transform": [{"filter": "datum.year === 2030 && datum.scen === '10 tisoč' && datum.series === 'Prebivalstvo (20-64 let)'"}], "mark": {"type": "text", "align": "left", "baseline": "middle", "dx": 19, "dy": 4, "fontSize": 24, "color": "#231f20"}, "encoding": {"text": {"value": "10 tisoč"}}},
                    {"transform": [{"filter": "datum.year === 2030 && datum.scen === 'osnovni' && datum.series === 'Prebivalstvo (20-64 let)'"}], "mark": {"type": "text", "align": "left", "baseline": "top", "dx": 19, "dy": -6, "fontSize": 24, "lineHeight": 27, "color": "#231f20"}, "encoding": {"text": {"value": ["0 (število", "priselitev", "enako", "odselitvam)"]}}}
                  ]
                }
              ]
            },
            {
              "title": {"text": ["Iz Slovenije so se izseljevali bolj izobraženi, kot so se vanjo", "priseljevali."], "fontSize": 32.5, "lineHeight": 43, "offset": 0, "frame": "bounds"},
              "spacing": 0,
              "resolve": {"scale": {"color": "independent"}, "legend": {"color": "independent"}},
              "vconcat": [
                {"width": 1, "height": 37, "data": {"name": "one"}, "mark": {"type": "text"}, "encoding": {"text": {"value": ""}}},
                {
                  "width": 1028, "height": 428, "data": {"name": "mig"},
                  "title": {"text": "Vir: SURS", "orient": "bottom", "fontSize": 20, "fontWeight": "normal", "offset": 41, "frame": "bounds"},
                  "mark": {"type": "bar"},
                  "encoding": {
                    "x": {"field": "year", "type": "ordinal", "scale": {"paddingInner": 0.21, "paddingOuter": 0.135}, "axis": {"title": null, "labelAngle": 0, "labelPadding": 10}},
                    "xOffset": {"field": "type", "type": "nominal", "sort": ["Priseljeni", "Odseljeni", "Neto prirast"], "scale": {"paddingInner": 0.15}},
                    "y": {"field": "value", "type": "quantitative", "scale": {"domain": [-1500, 4000], "nice": false}, "axis": {"values": [-1500, -1000, -500, 0, 500, 1000, 1500, 2000, 2500, 3000, 3500, 4000], "labelExpr": "'' + datum.value", "grid": true, "title": null, "labelPadding": 10}},
                    "color": {"field": "type", "type": "nominal", "scale": {"domain": ["Priseljeni", "Odseljeni", "Neto prirast"], "range": ["#a91d3a", "#dc9596", "#808285"]}, "legend": {"orient": "none", "legendX": -65, "legendY": -81, "direction": "horizontal", "title": "Število priseljenih in odseljenih s tericarno izobrazbo", "titleOrient": "left", "titleFont": "Open Sans", "titleFontSize": 24, "titleFontWeight": "bold", "titleColor": "#231f20", "titlePadding": 57, "titleLimit": 1000, "labelFont": "Open Sans", "labelFontSize": 20, "labelColor": "#231f20", "symbolType": "square", "symbolSize": 200, "symbolStrokeWidth": 0, "symbolOpacity": 1, "columnPadding": 20, "labelOffset": 6, "padding": 0}}
                  }
                }
              ]
            }
          ],
          "spacing": 64, "align": "each"
        }
      ],
      "spacing": 0, "align": "each"
    },
    {"width": 1, "height": 75, "data": {"name": "one"}, "mark": {"type": "text"}, "encoding": {"text": {"value": ""}}},
    {"width": 2240, "height": 12, "view": {"fill": "#bcbec0", "stroke": null}, "data": {"name": "one"}, "mark": {"type": "text"}, "encoding": {"text": {"value": ""}}},
    {"width": 1, "height": 25, "data": {"name": "one"}, "mark": {"type": "text"}, "encoding": {"text": {"value": ""}}},
    {
      "width": 26, "height": 40, "data": {"name": "one"},
      "layer": [
        {"mark": {"type": "point", "shape": "M 0.12 -1 L 0.71 -1 L -0.12 1 L -0.71 1 Z", "size": 1156, "filled": true, "color": "#a91d3a", "opacity": 1, "strokeWidth": 0, "yOffset": -3}, "encoding": {}},
        {"mark": {"type": "text", "align": "left", "baseline": "middle", "dx": 35, "font": "DejaVu Sans", "fontWeight": "bold", "fontSize": 44, "color": "#231f20"}, "encoding": {"text": {"value": "VKLJUČEVANJE TUJIH DRŽAVLJANOV V DRUŽBO"}}}
      ]
    },
    {"width": 1, "height": 48, "data": {"name": "one"}, "mark": {"type": "text"}, "encoding": {"text": {"value": ""}}},
    {"width": 2240, "height": 2, "view": {"fill": "#808080", "stroke": null}, "data": {"name": "one"}, "mark": {"type": "text"}, "encoding": {"text": {"value": ""}}},
    {"width": 1, "height": 24, "data": {"name": "one"}, "mark": {"type": "text"}, "encoding": {"text": {"value": ""}}},
    {
      "hconcat": [
        {"width": 1, "height": 1, "data": {"name": "one"}, "mark": {"type": "text"}, "encoding": {"text": {"value": ""}}},
        {
          "hconcat": [
            {
              "title": {"text": ["Znanje jezika države gostiteljice (predpogoj za vključevanje)", "na relativno nizki ravni."], "fontSize": 32.5, "lineHeight": 41, "subtitle": "Delež priseljencev, ki obvlada višjo raven jezika, v %", "subtitleFont": "Open Sans", "subtitleFontWeight": "bold", "subtitleFontSize": 23.5, "subtitleColor": "#231f20", "subtitlePadding": 35, "offset": 0, "frame": "bounds"},
              "spacing": 0,
              "vconcat": [
                {"width": 1, "height": 47, "data": {"name": "one"}, "mark": {"type": "text"}, "encoding": {"text": {"value": ""}}},
                {
                  "width": 1044, "height": 383.5, "data": {"name": "jez"},
                  "title": {"text": "Vir: OECD", "orient": "bottom", "fontSize": 20, "fontWeight": "normal", "offset": -28, "frame": "bounds"},
                  "mark": {"type": "bar"},
                  "encoding": {
                    "x": {"field": "country", "type": "nominal", "sort": null, "scale": {"paddingInner": 0.39, "paddingOuter": 0.19}, "axis": {"title": null, "labelAngle": -90, "labelFont": "DejaVu Sans", "labelFontSize": 19, "labelPadding": 8, "labelOverlap": false, "labelLimit": 400, "labelColor": {"condition": [{"test": "datum.value === 'Slovenija'", "value": "#a91d3a"}, {"test": "datum.value === 'EU skupaj (25)'", "value": "#52a5a3"}], "value": "#231f20"}, "labelFontWeight": {"condition": {"test": "datum.value === 'Slovenija' || datum.value === 'EU skupaj (25)'", "value": "bold"}, "value": "normal"}}},
                    "y": {"field": "value", "type": "quantitative", "scale": {"domain": [0, 100], "nice": false}, "axis": {"values": [0, 10, 20, 30, 40, 50, 60, 70, 80, 90, 100], "grid": true, "title": null, "labelPadding": 10}},
                    "color": {"condition": [{"test": "datum.country === 'Slovenija'", "value": "#a91d3a"}, {"test": "datum.country === 'EU skupaj (25)'", "value": "#52a5a3"}], "value": "#a7a9ac"}
                  }
                }
              ]
            },
            {
              "title": {"text": ["Visok delež tujih državljanov v prenaseljnih stanovanjih", "kaže na slab dostop do nastanitve."], "fontSize": 32.5, "lineHeight": 41, "subtitle": "Delež tujih državljanov, ki živijo v prenaseljenih stanovanjih, v %", "subtitleFont": "Open Sans", "subtitleFontWeight": "bold", "subtitleFontSize": 23.5, "subtitleColor": "#231f20", "subtitlePadding": 35, "offset": 0, "frame": "bounds"},
              "spacing": 0,
              "vconcat": [
                {"width": 1, "height": 44, "data": {"name": "one"}, "mark": {"type": "text"}, "encoding": {"text": {"value": ""}}},
                {
                  "width": 1058, "height": 384.7, "data": {"name": "sta"},
                  "title": {"text": "Vir: Eurostat", "orient": "bottom", "fontSize": 20, "fontWeight": "normal", "offset": -8, "frame": "bounds"},
                  "mark": {"type": "bar"},
                  "encoding": {
                    "x": {"field": "country", "type": "nominal", "sort": null, "scale": {"paddingInner": 0.42, "paddingOuter": 0.1}, "axis": {"title": null, "labelAngle": -90, "labelFont": "DejaVu Sans", "labelFontSize": 19, "labelPadding": 8, "labelOverlap": false, "labelLimit": 400, "labelColor": {"condition": [{"test": "datum.value === 'Slovenija'", "value": "#a91d3a"}, {"test": "datum.value === 'EU'", "value": "#52a5a3"}], "value": "#231f20"}, "labelFontWeight": {"condition": {"test": "datum.value === 'Slovenija' || datum.value === 'EU'", "value": "bold"}, "value": "normal"}}},
                    "y": {"field": "value", "type": "quantitative", "scale": {"domain": [0, 60], "nice": false}, "axis": {"values": [0, 10, 20, 30, 40, 50, 60], "grid": true, "title": null, "labelPadding": 10}},
                    "color": {"condition": [{"test": "datum.country === 'Slovenija'", "value": "#a91d3a"}, {"test": "datum.country === 'EU'", "value": "#52a5a3"}], "value": "#a7a9ac"}
                  }
                }
              ]
            }
          ],
          "spacing": 62, "align": "each"
        }
      ],
      "spacing": 0, "align": "each"
    }
  ]
}
